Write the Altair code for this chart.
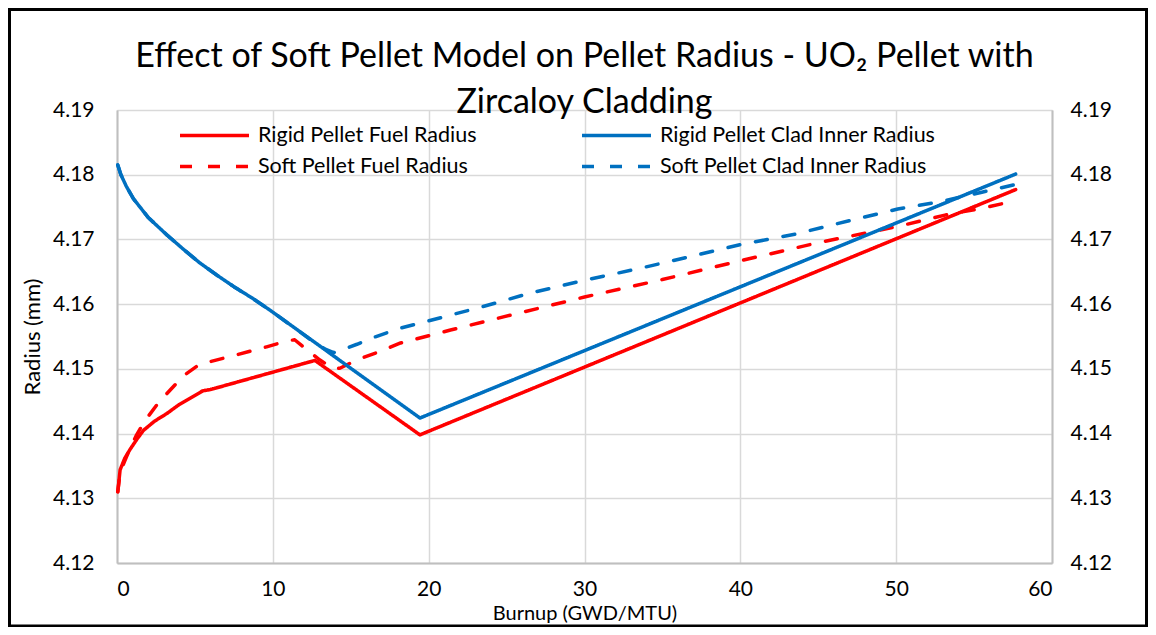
import altair as alt
import pandas as pd

# ---- data ----
rigid_fuel_x = [0.05, 0.2, 0.5, 0.85, 1.3, 1.7, 2.4, 3.2, 4.0, 4.5, 5.5, 6.0, 12.7, 19.44, 57.67]
rigid_fuel_y = [4.1310, 4.1344, 4.1362, 4.1376, 4.1392, 4.1405, 4.1419, 4.1431, 4.1445, 4.1452,
                4.1466, 4.1468, 4.1513, 4.1398, 4.1777]

rigid_clad_x = [0.05, 0.25, 0.6, 1.05, 2.0, 3.2, 4.3, 5.3, 6.4, 7.5, 8.7, 9.8, 19.44, 57.67]
rigid_clad_y = [4.1815, 4.1800, 4.1782, 4.1763, 4.1734, 4.1707, 4.1684, 4.1664, 4.1645, 4.1627,
                4.1609, 4.1591, 4.1424, 4.1801]

soft_fuel_x = [0.05, 0.2, 0.5, 0.85, 1.26, 1.8, 2.64, 3.4, 4.3, 5.3, 5.8, 7.25, 9.6, 10.9, 11.4,
               12.0, 13.0, 13.9, 14.3, 15.4, 16.9, 18.2, 21.4, 23.9, 30.0, 35.0, 40.0, 45.0, 50.1,
               53.2, 55.5, 57.67]
soft_fuel_y = [4.1310, 4.1340, 4.1358, 4.1378, 4.1398, 4.1420, 4.1447, 4.1467, 4.1490, 4.1507,
               4.1510, 4.1519, 4.1534, 4.1543, 4.1545, 4.1533, 4.1514, 4.1500, 4.1501, 4.1514,
               4.1527, 4.1540, 4.1560, 4.1575, 4.1611, 4.1638, 4.1667, 4.1695, 4.1720, 4.1738,
               4.1748, 4.1760]

soft_clad_x = [0.05, 0.25, 0.6, 1.05, 2.0, 3.2, 4.3, 5.3, 6.4, 7.5, 8.7, 9.8, 12.6, 13.4, 13.9,
               14.5, 15.4, 16.4, 18.2, 21.4, 23.3, 26.5, 30.0, 33.5, 37.4, 40.0, 43.5, 47.0, 50.1,
               52.8, 55.5, 57.67]
soft_clad_y = [4.1815, 4.1800, 4.1782, 4.1763, 4.1734, 4.1707, 4.1684, 4.1664, 4.1645, 4.1627,
               4.1609, 4.1591, 4.1542, 4.1530, 4.1525, 4.1530, 4.1538, 4.1548, 4.1563, 4.1583,
               4.1595, 4.1617, 4.1637, 4.1655, 4.1677, 4.1692, 4.1708, 4.1729, 4.1747, 4.1758,
               4.1773, 4.1785]

# legend is laid out column-major: this order gives rows (Rigid Fuel, Rigid Clad), (Soft Fuel, Soft Clad)
series_names = ["Rigid Pellet Fuel Radius", "Soft Pellet Fuel Radius",
                "Rigid Pellet Clad Inner Radius", "Soft Pellet Clad Inner Radius"]
series_colors = ["#ff0000", "#ff0000", "#0070c0", "#0070c0"]
series_dashes = [[1, 0], [12, 16], [1, 0], [12, 16]]

x_ticks = [0, 10, 20, 30, 40, 50, 60]
y_ticks = [4.12, 4.13, 4.14, 4.15, 4.16, 4.17, 4.18, 4.19]

rows = []
for name, xs, ys in zip(series_names,
                        [rigid_fuel_x, soft_fuel_x, rigid_clad_x, soft_clad_x],
                        [rigid_fuel_y, soft_fuel_y, rigid_clad_y, soft_clad_y]):
    for i, (xv, yv) in enumerate(zip(xs, ys)):
        rows.append({"series": name, "burnup": xv, "radius": yv, "order": i})
df = pd.DataFrame(rows)

FONT = "Lato"
W, H = 935, 453
PL, PT, PR, PB = 109, 102, 96, 64

xscale = alt.Scale(domain=[0, 60], nice=False, zero=False)
yscale = alt.Scale(domain=[4.12, 4.19], nice=False, zero=False)

x_axis = alt.Axis(values=x_ticks, title="Burnup (GWD/MTU)", labelFontSize=21, titleFontSize=20,
                  labelPadding=15, titlePadding=4, ticks=False, grid=True,
                  gridColor="#d9d9d9", gridWidth=1.5, domainColor="#bfbfbf", domainWidth=2,
                  labelColor="black", titleColor="black", titleFontWeight="normal",
                  labelFont=FONT, titleFont=FONT)

y_axis_left = alt.Axis(orient="left", values=y_ticks, format=".2f", title="Radius (mm)",
                       labelFontSize=21, titleFontSize=22, labelPadding=23, titlePadding=8,
                       ticks=False, grid=True, gridColor="#d9d9d9", gridWidth=1.5,
                       domainColor="#bfbfbf", domainWidth=2, labelColor="black",
                       titleColor="black", titleFontWeight="normal",
                       labelFont=FONT, titleFont=FONT)

y_axis_right = alt.Axis(orient="right", values=y_ticks, format=".2f", title=None,
                        labelFontSize=21, labelPadding=18, ticks=False, grid=False,
                        domainColor="#bfbfbf", domainWidth=2, labelColor="black",
                        labelFont=FONT)

legend = alt.Legend(title=None, orient="none", legendX=61, legendY=12, columns=2,
                    symbolType="M-1,0H5", symbolSize=529, symbolStrokeWidth=3.5,
                    labelFontSize=21.5, labelFont=FONT, labelColor="black", labelOffset=53,
                    columnPadding=98, rowPadding=7, padding=0, labelLimit=400)

lines = alt.Chart(df).mark_line(strokeWidth=3.5, strokeCap="round", strokeJoin="round").encode(
    x=alt.X("burnup:Q", scale=xscale, axis=x_axis),
    y=alt.Y("radius:Q", scale=yscale, axis=y_axis_left),
    color=alt.Color("series:N", scale=alt.Scale(domain=series_names, range=series_colors),
                    legend=legend, sort=series_names),
    strokeDash=alt.StrokeDash("series:N", scale=alt.Scale(domain=series_names, range=series_dashes),
                              legend=legend, sort=series_names),
    order=alt.Order("order:Q"),
)

right = alt.Chart(df).mark_line(opacity=0).encode(
    x=alt.X("burnup:Q", scale=xscale, axis=x_axis),
    y=alt.Y("radius:Q", scale=yscale, axis=y_axis_right),
    detail="series:N",
)

frame = alt.Chart(pd.DataFrame({"k": [0]})).mark_rect(
    fillOpacity=0, stroke="black", strokeWidth=3
).encode(
    x=alt.value(-PL + 1.5), x2=alt.value(W + PR - 1.5),
    y=alt.value(-PT + 1.5), y2=alt.value(H + PB - 1),
)

chart = alt.layer(lines, right, frame).resolve_scale(y="independent").properties(
    width=W, height=H,
    padding={"left": PL, "top": PT, "right": PR, "bottom": PB},
    autosize=alt.AutoSizeParams(type="none"),
    title=alt.TitleParams(
        text=["Effect of Soft Pellet Model on Pellet Radius - UO\u2082 Pellet with",
              "Zircaloy Cladding"],
        fontSize=34, font=FONT, fontWeight="normal", color="black",
        anchor="middle", lineHeight=46, offset=-112, frame="group",
    ),
).configure_view(stroke=None).configure(background="white")

chart.save("out.html", embed_options={"renderer": "svg", "actions": False})
